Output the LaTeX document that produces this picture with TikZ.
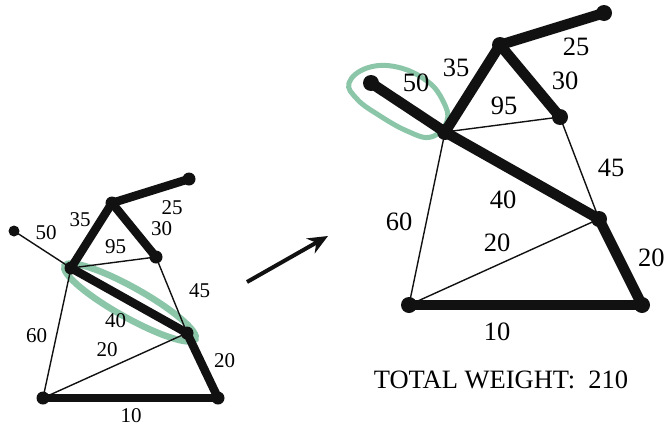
\documentclass[tikz,border=0pt]{standalone}
\usepackage{fontspec}
\setmainfont{Liberation Serif}
\usepackage{xcolor}
\definecolor{LoopGreen}{HTML}{8CC6A9}
\definecolor{TreeInk}{HTML}{111111}
\usetikzlibrary{arrows.meta,calc}

\begin{document}
\begin{tikzpicture}[
  x=1pt,y=-1pt,
  heavyL/.style={draw=TreeInk,line width=8.5pt,line cap=round},
  heavyR/.style={draw=TreeInk,line width=10.5pt,line cap=round},
  light/.style={draw=TreeInk,line width=1.4pt},
  wtL/.style={font=\fontsize{21}{21}\selectfont,inner sep=0pt},
  wtR/.style={font=\fontsize{26.5}{26.5}\selectfont,inner sep=0pt},
  hull/.style={draw=LoopGreen,line width=5pt},
  step arrow/.style={-{Stealth[length=20pt,width=17pt]},draw=TreeInk,line width=4pt}
]
\useasboundingbox (0,0) rectangle (664,426);

% left graph
\coordinate (la) at (14,231);
\coordinate (lb) at (112,203);
\coordinate (lc) at (189,179);
\coordinate (ld) at (71,268);
\coordinate (le) at (156,257);
\coordinate (lf) at (187,333);
\coordinate (lg) at (43,398);
\coordinate (lh) at (218,398);

\path ($(ld)!.5!(lf)$) ++(1,2) coordinate (lmid);
\draw[hull,line width=6.5pt,rotate around={-29.3:(lmid)}] (lmid) ellipse [x radius=75pt,y radius=15pt];

\draw[light] (la) -- (ld);
\draw[light] (ld) -- (le);
\draw[light] (le) -- (lf);
\draw[light] (ld) -- (lg);
\draw[light] (lg) -- (lf);
\draw[heavyL] (ld) -- (lb);
\draw[heavyL] (lb) -- (lc);
\draw[heavyL] (lb) -- (le);
\draw[heavyL] (ld) -- (lf);
\draw[heavyL] (lf) -- (lh);
\draw[heavyL] (lg) -- (lh);
\fill[TreeInk] (la) circle (5.5pt);
\foreach \v in {lb,lc,ld,le,lf,lg,lh}
  \fill[TreeInk] (\v) circle (6.5pt);

\node[wtL] (lw50) at (46,233) {50};
\node[wtL] (lw35) at (80,220) {35};
\node[wtL] (lw25) at (172,207.5) {25};
\node[wtL] (lw30) at (161.5,229) {30};
\node[wtL] (lw95) at (115.5,247) {95};
\node[wtL] (lw45) at (199.5,290.5) {45};
\node[wtL] (lw40) at (115.5,320.5) {40};
\node[wtL] (lw60) at (36.5,335.5) {60};
\node[wtL] (lw20a) at (107,350) {20};
\node[wtL] (lw20b) at (224.5,361) {20};
\node[wtL] (lw10) at (131,416) {10};

% arrow between the two
\coordinate (arrS) at (247,282);
\coordinate (arrE) at (328,236);
\draw[step arrow] (arrS) -- (arrE);

% right graph
\coordinate (ra) at (371,83);
\coordinate (rb) at (500,45);
\coordinate (rc) at (604,13);
\coordinate (rd) at (445,132);
\coordinate (re) at (560,117);
\coordinate (rf) at (599,219);
\coordinate (rg) at (409,305);
\coordinate (rh) at (642,305);

\draw[hull] plot[smooth cycle,tension=0.7] coordinates {
  (349,83) (367,68) (397,67) (427,81) (443,101) (447,121)
  (431,137) (407,131) (377,114) (357,99)};

\draw[light] (rd) -- (re);
\draw[light] (re) -- (rf);
\draw[light] (rd) -- (rg);
\draw[light] (rg) -- (rf);
\draw[heavyR] (ra) -- (rd);
\draw[heavyR] (rd) -- (rb);
\draw[heavyR] (rb) -- (rc);
\draw[heavyR] (rb) -- (re);
\draw[heavyR] (rd) -- (rf);
\draw[heavyR] (rf) -- (rh);
\draw[heavyR] (rg) -- (rh);
\foreach \v in {ra,rb,rc,rd,re,rf,rg,rh}
  \fill[TreeInk] (\v) circle (8pt);

\node[wtR] (rw50) at (416,83) {50};
\node[wtR] (rw35) at (456,68) {35};
\node[wtR] (rw25) at (576,47) {25};
\node[wtR] (rw30) at (565,81) {30};
\node[wtR] (rw95) at (504,106) {95};
\node[wtR] (rw45) at (611,168) {45};
\node[wtR] (rw40) at (503,200) {40};
\node[wtR] (rw60) at (399,222) {60};
\node[wtR] (rw20a) at (497,243) {20};
\node[wtR,anchor=west] (rw20b) at (638,258) {20};
\node[wtR] (rw10) at (497,332) {10};

\node[wtR] (total) at (501,380) {TOTAL WEIGHT:~~210};
\end{tikzpicture}
\end{document}
